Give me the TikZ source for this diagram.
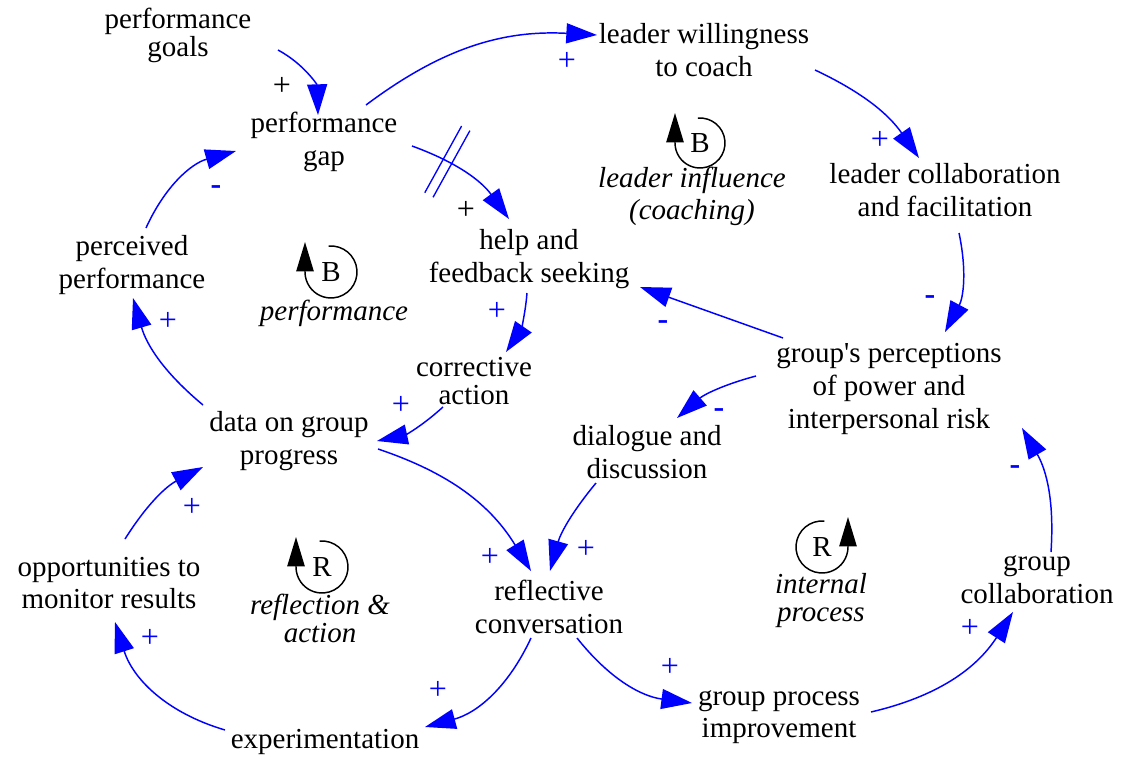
\documentclass[tikz,border=0pt]{standalone}
\usepackage{fontspec}
\setmainfont{Liberation Serif}
\usetikzlibrary{arrows.meta}

\begin{document}
\begin{tikzpicture}[x=0.75pt,y=0.75pt]
  \tikzset{var/.style={align=center,inner sep=1pt,font=\fontsize{21.75}{24.5}\selectfont},
    tight/.style={font=\fontsize{21.75}{21}\selectfont},
    link/.style={draw=blue,line width=1.1pt,-{Triangle[length=23pt,width=15pt]}},
    pol/.style={text=blue,inner sep=0pt,font=\fontsize{24}{24}\selectfont},
    neg/.style={pol,font=\fontsize{24}{24}\selectfont\bfseries},
    blackpol/.style={pol,text=black},
    delay/.style={inner sep=0pt,minimum width=6,minimum height=56},
    loopletter/.style={inner sep=0pt,font=\fontsize{21.75}{24}\selectfont},
    loopname/.style={align=center,font=\fontsize{21.75}{24}\selectfont\itshape},
    tightname/.style={loopname,font=\fontsize{21.75}{21}\selectfont\itshape},
    looparc/.style={line width=1.1pt,-{Triangle[length=22pt,width=13pt]}}}
  \useasboundingbox (0,0) rectangle (1122,-757);

  \node[var,tight] (goals) at (178,-35) {performance\\goals};
  \node[var] (gap) at (324,-142) {performance\\gap};
  \node[var] (willing) at (704,-50) {leader willingness\\to coach};
  \node[var] (collab) at (945,-190) {leader collaboration\\and facilitation};
  \node[var] (help) at (529,-259) {help and\\feedback seeking};
  \node[var] (perceived) at (132,-265) {perceived\\performance};
  \node[var,tight] (corrective) at (474,-381) {corrective\\action};
  \node[var] (data) at (289,-441) {data on group\\progress};
  \node[var] (groupsp) at (889,-389) {group\textquotesingle s perceptions\\of power and\\interpersonal risk};
  \node[var] (dialogue) at (647,-452) {dialogue and\\discussion};
  \node[var] (opport) at (109,-583) {opportunities to\\monitor results};
  \node[var] (reflect) at (549,-607) {reflective\\conversation};
  \node[var] (experim) at (325,-742) {experimentation};
  \node[var] (gpi) at (779,-717) {group process\\improvement};
  \node[var] (gcollab) at (1037,-580) {group\\collaboration};

  \draw[link] ([shift={(100,-15)}]goals.center) to[bend left=30] ([shift={(-6,27)}]gap.center);
  \draw[link] ([shift={(42,37)}]gap.center) to[bend left=20] ([shift={(-107,15)}]willing.center);
  \draw[link] ([shift={(111,-20)}]willing.center) to[bend left=15] ([shift={(-26,32)}]collab.center);
  \draw[link] ([shift={(14,-43)}]collab.center) to[bend left=20] ([shift={(56,57)}]groupsp.center);
  \draw[link] ([shift={(-106,51)}]groupsp.center) -- ([shift={(111,-28)}]help.center);
  \draw[link] ([shift={(88,-4)}]gap.center) to[bend left=17] node[delay,pos=0.3,sloped] (gapdelay) {} ([shift={(-20,40)}]help.center);
  \draw[blue,line width=1pt] (gapdelay.north west) -- (gapdelay.south west)
    (gapdelay.north east) -- (gapdelay.south east);
  \draw[link] ([shift={(-2,-34)}]help.center) to[bend left=15] ([shift={(32,29)}]corrective.center);
  \draw[link] ([shift={(-31,-26)}]corrective.center) to[bend left=15] ([shift={(88,0)}]data.center);
  \draw[link] ([shift={(-86,36)}]data.center) to[bend left=17] ([shift={(1,-33)}]perceived.center);
  \draw[link] ([shift={(14,37)}]perceived.center) to[bend left=25] ([shift={(-88,-9)}]gap.center);
  \draw[link] ([shift={(89,-8)}]data.center) to[bend left=20] ([shift={(-18,36)}]reflect.center);
  \draw[link] ([shift={(-51,-31)}]dialogue.center) to[bend right=12] ([shift={(1,36)}]reflect.center);
  \draw[link] ([shift={(-133,13)}]groupsp.center) to[bend right=13] ([shift={(30,34)}]dialogue.center);
  \draw[link] ([shift={(-18,-31)}]reflect.center) to[bend left=25] ([shift={(100,15)}]experim.center);
  \draw[link] ([shift={(-100,12)}]experim.center) to[bend left=28] ([shift={(6,-39)}]opport.center);
  \draw[link] ([shift={(16,44)}]opport.center) to[bend left=15] ([shift={(-86,-26)}]data.center);
  \draw[link] ([shift={(28,-31)}]reflect.center) to[bend right=22] ([shift={(-87,14)}]gpi.center);
  \draw[link] ([shift={(92,5)}]gpi.center) to[bend right=22] ([shift={(-24,-32)}]gcollab.center);
  \draw[link] ([shift={(14,28)}]gcollab.center) to[bend right=17] ([shift={(133,-39)}]groupsp.center);

  \node[blackpol] (p1) at (282,-86) {+};
  \node[pol] (p2) at (567,-61) {+};
  \node[pol] (p3) at (880,-140) {+};
  \node[neg] (p4) at (930,-300) {-};
  \node[neg] (p5) at (663,-325) {-};
  \node[blackpol] (p6) at (466,-210) {+};
  \node[pol] (p7) at (497,-311) {+};
  \node[pol] (p8) at (401,-405) {+};
  \node[pol] (p9) at (168,-321) {+};
  \node[neg] (p10) at (216,-190) {-};
  \node[pol] (p11) at (490,-557) {+};
  \node[pol] (p12) at (586,-549) {+};
  \node[neg] (p13) at (719,-413) {-};
  \node[pol] (p14) at (438,-690) {+};
  \node[pol] (p15) at (150,-638) {+};
  \node[pol] (p16) at (192,-507) {+};
  \node[pol] (p17) at (670,-667) {+};
  \node[pol] (p18) at (970,-628) {+};
  \node[neg] (p19) at (1015,-470) {-};

  \node[loopletter] (bperf) at (331,-272) {B};
  \draw[looparc] (bperf.center) ++(95:26) arc[start angle=95,end angle=-180,radius=26] -- ++(0,30);
  \node[loopname] (bperfname) at (334,-313) {performance};
  \node[loopletter] (blead) at (700,-143) {B};
  \draw[looparc] (blead.center) ++(95:25) arc[start angle=95,end angle=-180,radius=25] -- ++(0,30);
  \node[loopname] (bleadname) at (692,-196) {leader influence\\(coaching)};
  \node[loopletter] (rrefl) at (322,-567) {R};
  \draw[looparc] (rrefl.center) ++(95:26) arc[start angle=95,end angle=-180,radius=26] -- ++(0,30);
  \node[tightname] (rreflname) at (320,-618) {reflection \&\\action};
  \node[loopletter] (rint) at (822,-547) {R};
  \draw[looparc] (rint.center) ++(85:26) arc[start angle=85,end angle=360,radius=26] -- ++(0,30);
  \node[tightname] (rintname) at (821,-601) {internal\\process};
\end{tikzpicture}
\end{document}
